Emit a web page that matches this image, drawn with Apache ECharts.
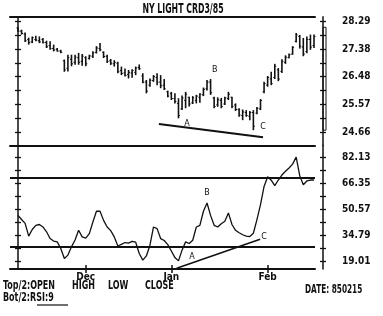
<!DOCTYPE html>
<html><head><meta charset="utf-8">
<script src="https://cdn.jsdelivr.net/npm/echarts@6/dist/echarts.min.js"></script>
<style>html,body{margin:0;padding:0;background:#fff}#c{width:383px;height:316px}</style>
</head><body><div id="c"></div>
<script>
const chartTitle = 'NY LIGHT CRD3/85';
const highs = [28.10,28.02,27.93,27.76,27.80,27.82,27.80,27.75,27.66,27.64,27.53,27.42,27.36,27.04,27.20,27.20,27.20,27.26,27.22,27.15,
27.20,27.31,27.48,27.58,27.31,27.20,27.06,27.02,26.97,26.81,26.75,26.70,26.72,26.81,26.88,26.59,26.37,26.42,26.53,26.59,
26.53,26.40,26.02,25.98,25.93,25.77,25.86,25.98,25.82,25.84,25.88,25.93,26.12,26.37,26.40,25.82,25.80,25.78,25.82,25.98,
25.82,25.60,25.44,25.40,25.38,25.35,25.38,25.48,25.74,26.31,26.50,26.64,26.90,26.76,27.05,27.18,27.24,27.48,27.91,27.85,
27.75,27.80,27.86,27.86];
const lows = [27.95,27.86,27.62,27.53,27.58,27.64,27.58,27.57,27.42,27.36,27.31,27.30,27.25,26.64,26.65,26.82,26.87,26.87,26.84,26.82,
27.04,27.09,27.24,27.31,27.09,26.93,26.86,26.81,26.59,26.53,26.48,26.42,26.44,26.53,26.70,26.26,25.93,26.15,26.31,26.20,
26.10,26.04,25.80,25.71,25.60,25.11,25.38,25.44,25.50,25.58,25.60,25.62,25.84,26.02,25.88,25.44,25.49,25.44,25.55,25.71,
25.44,25.35,25.16,25.05,25.16,25.05,24.72,25.24,25.38,25.93,26.15,26.20,26.40,26.33,26.60,26.90,27.08,27.20,27.60,27.40,
27.15,27.25,27.36,27.42];
const opens = [28.08,27.98,27.88,27.70,27.62,27.70,27.66,27.70,27.60,27.50,27.40,27.38,27.32,27.00,26.75,27.05,26.95,27.10,26.98,27.10,
27.08,27.15,27.28,27.40,27.28,27.15,27.00,26.90,26.92,26.68,26.60,26.55,26.60,26.62,26.78,26.50,26.30,26.20,26.35,26.45,
26.30,26.20,25.98,25.92,25.76,25.60,25.42,25.70,25.80,25.62,25.70,25.80,25.88,26.08,26.30,25.78,25.55,25.70,25.58,25.76,
25.80,25.55,25.40,25.20,25.30,25.18,25.30,25.28,25.42,25.98,26.20,26.40,26.45,26.70,26.65,26.95,27.10,27.22,27.64,27.80,
27.45,27.30,27.70,27.50];
const closes = [27.97,27.90,27.66,27.60,27.76,27.68,27.62,27.60,27.46,27.40,27.35,27.32,27.28,26.70,27.10,26.90,27.12,26.95,27.15,26.90,
27.16,27.26,27.42,27.36,27.14,26.98,26.92,26.95,26.64,26.58,26.52,26.62,26.68,26.76,26.74,26.30,26.00,26.36,26.48,26.30,
26.18,26.08,25.84,25.76,25.66,25.20,25.78,25.90,25.58,25.78,25.84,25.90,26.06,26.30,25.95,25.50,25.72,25.50,25.78,25.90,
25.50,25.40,25.22,25.32,25.20,25.30,24.85,25.44,25.70,26.25,26.45,26.25,26.82,26.40,26.98,27.12,27.20,27.44,27.85,27.48,
27.22,27.70,27.45,27.80];
const rsi = [47,44.5,42.2,34.5,38.5,41,41.5,40,37.1,33,31.5,31,27,21,23,28,32.1,38,34,33.3,
36,43,49.5,49.5,44,40,37.8,34,28.5,29.5,30.6,30.2,31.3,30.8,24,20,22.5,29,40,39,
33,31.8,29.3,25.5,21.5,19.5,26,31,30,32,40,41,49.5,54.5,47,41,40,42,43.5,48.5,
41.5,38,36.5,35.3,34.5,34.2,36.2,44.5,53.5,64.5,70.4,68.3,65,68.4,71.4,73.7,75.7,78,82.3,71,
65.5,67.8,68.4,68.4];
const priceTicks = [24.66, 25.57, 26.48, 27.38, 28.29];
const rsiTicks = [19.01, 34.79, 50.57, 66.35, 82.13];
const months = ['Dec', 'Jan', 'Feb'];
const monthStartBar = [19, 43, 70];
const rsiLevels = [70, 28];
const topTrend = [[39.5, 24.92], [68.7, 24.49]];
const bottomTrend = [[44.5, 15.1], [67.9, 32.55]];
const topMarks = [['A', 47.4, 24.92], ['B', 55.2, 26.70], ['C', 68.7, 24.82]];
const bottomMarks = [['A', 48.8, 21.9], ['B', 53.0, 60.5], ['C', 69.0, 34.0]];
const topInfo = ['Top/2:OPEN', 'HIGH', 'LOW', 'CLOSE'];
const bottomInfo = 'Bot/2:RSI:9';
const dateInfo = 'DATE: 850215';

const INK = '#111';
const FONT = '"DejaVu Sans Condensed","Liberation Sans Narrow",sans-serif';
function halfTicks(t) {
  const out = [];
  const step = t[1] - t[0];
  out.push(t[0] - step / 2);
  for (let k = 0; k < t.length; k++) {
    out.push(t[k]);
    if (k < t.length - 1) out.push((t[k] + t[k + 1]) / 2);
  }
  return out;
}
const ohlc = highs.map((h, i) => [i, opens[i], h, lows[i], closes[i]]);
const rsiData = rsi.map((v, i) => [i, v]);
const xMin = -2.24, xMax = 83.28;

function yAx(grid, pos, min, max, ticks, labels, inside, showLine) {
  return {
    type: 'value', gridIndex: grid, position: pos, min, max,
    offset: pos === 'right' ? 8 : 0,
    splitLine: {show: false},
    axisLine: {show: showLine, lineStyle: {color: INK, width: 1.5}},
    axisTick: {show: true, inside, length: 3, customValues: ticks, lineStyle: {color: INK, width: 1.3}},
    axisLabel: labels ? {show: true, customValues: labels, margin: 19, color: INK,
      fontFamily: FONT, fontWeight: 'bold', fontSize: 10, formatter: v => v.toFixed(2)} : {show: false}
  };
}
const pMin = 24.217, pMax = 28.448, rMin = 14.6, rMax = 89.26;
const pt = halfTicks(priceTicks), rt = halfTicks(rsiTicks);

function markPts(list) {
  return {
    symbol: 'rect', symbolSize: 1, itemStyle: {color: 'rgba(0,0,0,0)'},
    label: {show: true, position: 'inside', color: INK, fontFamily: 'DejaVu Sans', fontSize: 8, formatter: p => p.name},
    data: list.map(m => ({name: m[0], coord: [m[1], m[2]]}))
  };
}
function txt(x, y, s, size, sx, align) {
  return {type: 'text', x, y, scaleX: sx, originX: 0, originY: 0,
    style: {text: s, align: align || 'left', verticalAlign: 'middle', font: 'bold ' + size + 'px ' + FONT, fill: INK}};
}

const chart = echarts.init(document.getElementById('c'), null, {renderer: 'canvas'});
chart.setOption({
  animation: false,
  backgroundColor: '#fff',
  grid: [
    {left: 10, top: 16.7, width: 305, height: 128.8},
    {left: 10, top: 145.5, width: 305, height: 123.5}
  ],
  xAxis: [
    {type: 'value', gridIndex: 0, position: 'bottom', min: xMin, max: xMax, splitLine: {show: false},
      axisLine: {show: true, onZero: false, lineStyle: {color: INK, width: 2}}, axisTick: {show: false}, axisLabel: {show: false}},
    {type: 'value', gridIndex: 0, position: 'top', min: xMin, max: xMax, splitLine: {show: false},
      axisLine: {show: true, onZero: false, lineStyle: {color: INK, width: 2}}, axisTick: {show: false}, axisLabel: {show: false}},
    {type: 'value', gridIndex: 1, position: 'bottom', min: xMin, max: xMax, splitLine: {show: false},
      axisLine: {show: true, onZero: false, lineStyle: {color: INK, width: 2}},
      axisTick: {show: true, length: 4, customValues: monthStartBar, lineStyle: {color: INK, width: 1.5}},
      axisLabel: {show: true, customValues: monthStartBar, margin: 3, color: INK, fontFamily: FONT, fontWeight: 'bold', fontSize: 10,
        formatter: v => months[monthStartBar.indexOf(v)] || ''}},
    {type: 'value', gridIndex: 1, position: 'bottom', min: xMin, max: xMax, splitLine: {show: false},
      axisLine: {show: false, onZero: false},
      axisTick: {show: true, inside: true, length: 4, customValues: monthStartBar, lineStyle: {color: INK, width: 1.5}},
      axisLabel: {show: false}}
  ],
  yAxis: [
    yAx(0, 'left', pMin, pMax, pt, null, false, true),
    yAx(0, 'left', pMin, pMax, pt, null, true, false),
    yAx(0, 'right', pMin, pMax, pt, priceTicks, false, true),
    yAx(0, 'right', pMin, pMax, pt, null, true, false),
    yAx(1, 'left', rMin, rMax, rt, null, false, true),
    yAx(1, 'left', rMin, rMax, rt, null, true, false),
    yAx(1, 'right', rMin, rMax, rt, rsiTicks, false, true),
    yAx(1, 'right', rMin, rMax, rt, null, true, false)
  ],
  series: [
    {
      type: 'custom', xAxisIndex: 0, yAxisIndex: 0, data: ohlc,
      encode: {x: 0, y: [1, 2, 3, 4]},
      renderItem: function (params, api) {
        const i = api.value(0);
        const o = api.coord([i, api.value(1)]);
        const h = api.coord([i, api.value(2)]);
        const l = api.coord([i, api.value(3)]);
        const c = api.coord([i, api.value(4)]);
        const x = h[0];
        return {type: 'group', children: [
          {type: 'line', shape: {x1: x, y1: h[1], x2: x, y2: l[1]}, style: {stroke: INK, lineWidth: 1.6}},
          {type: 'line', shape: {x1: x - 1.5, y1: o[1], x2: x, y2: o[1]}, style: {stroke: INK, lineWidth: 1}},
          {type: 'line', shape: {x1: x, y1: c[1], x2: x + 1.5, y2: c[1]}, style: {stroke: INK, lineWidth: 1}}
        ]};
      }
    },
    {
      type: 'custom', xAxisIndex: 0, yAxisIndex: 0,
      data: [[0, Math.max(...highs), Math.min(...lows)]],
      encode: {x: 0, y: [1, 2]},
      renderItem: function (params, api) {
        const cs = params.coordSys;
        const top = api.coord([0, api.value(1)])[1];
        const bot = api.coord([0, api.value(2)])[1];
        return {type: 'rect', shape: {x: cs.x + cs.width + 8, y: top, width: 3, height: bot - top},
          style: {fill: 'none', stroke: INK, lineWidth: 1}};
      }
    },
    {
      type: 'line', xAxisIndex: 0, yAxisIndex: 0, data: topTrend, showSymbol: false, silent: true,
      lineStyle: {color: INK, width: 2}, markPoint: markPts(topMarks)
    },
    {
      type: 'line', xAxisIndex: 2, yAxisIndex: 4, data: rsiData, showSymbol: false, silent: true,
      lineStyle: {color: INK, width: 1.3},
      markLine: {silent: true, symbol: 'none', label: {show: false},
        lineStyle: {color: INK, width: 2, type: 'solid'},
        data: rsiLevels.map(v => ({yAxis: v}))},
      markPoint: markPts(bottomMarks)
    },
    {
      type: 'line', xAxisIndex: 2, yAxisIndex: 4, data: bottomTrend, showSymbol: false, silent: true,
      lineStyle: {color: INK, width: 1.5}
    }
  ],
  graphic: [
    txt(183, 9, chartTitle, 14, 0.62, 'center'),
    txt(3, 286, topInfo[0], 12, 0.74),
    txt(72, 286, topInfo[1], 12, 0.74),
    txt(108, 286, topInfo[2], 12, 0.74),
    txt(145, 286, topInfo[3], 12, 0.74),
    txt(3, 298, bottomInfo, 12, 0.74),
    {type: 'line', shape: {x1: 37, y1: 305, x2: 68, y2: 305}, style: {stroke: INK, lineWidth: 1.2}},
    txt(305, 290, dateInfo, 12, 0.68)
  ]
});
</script></body></html>
